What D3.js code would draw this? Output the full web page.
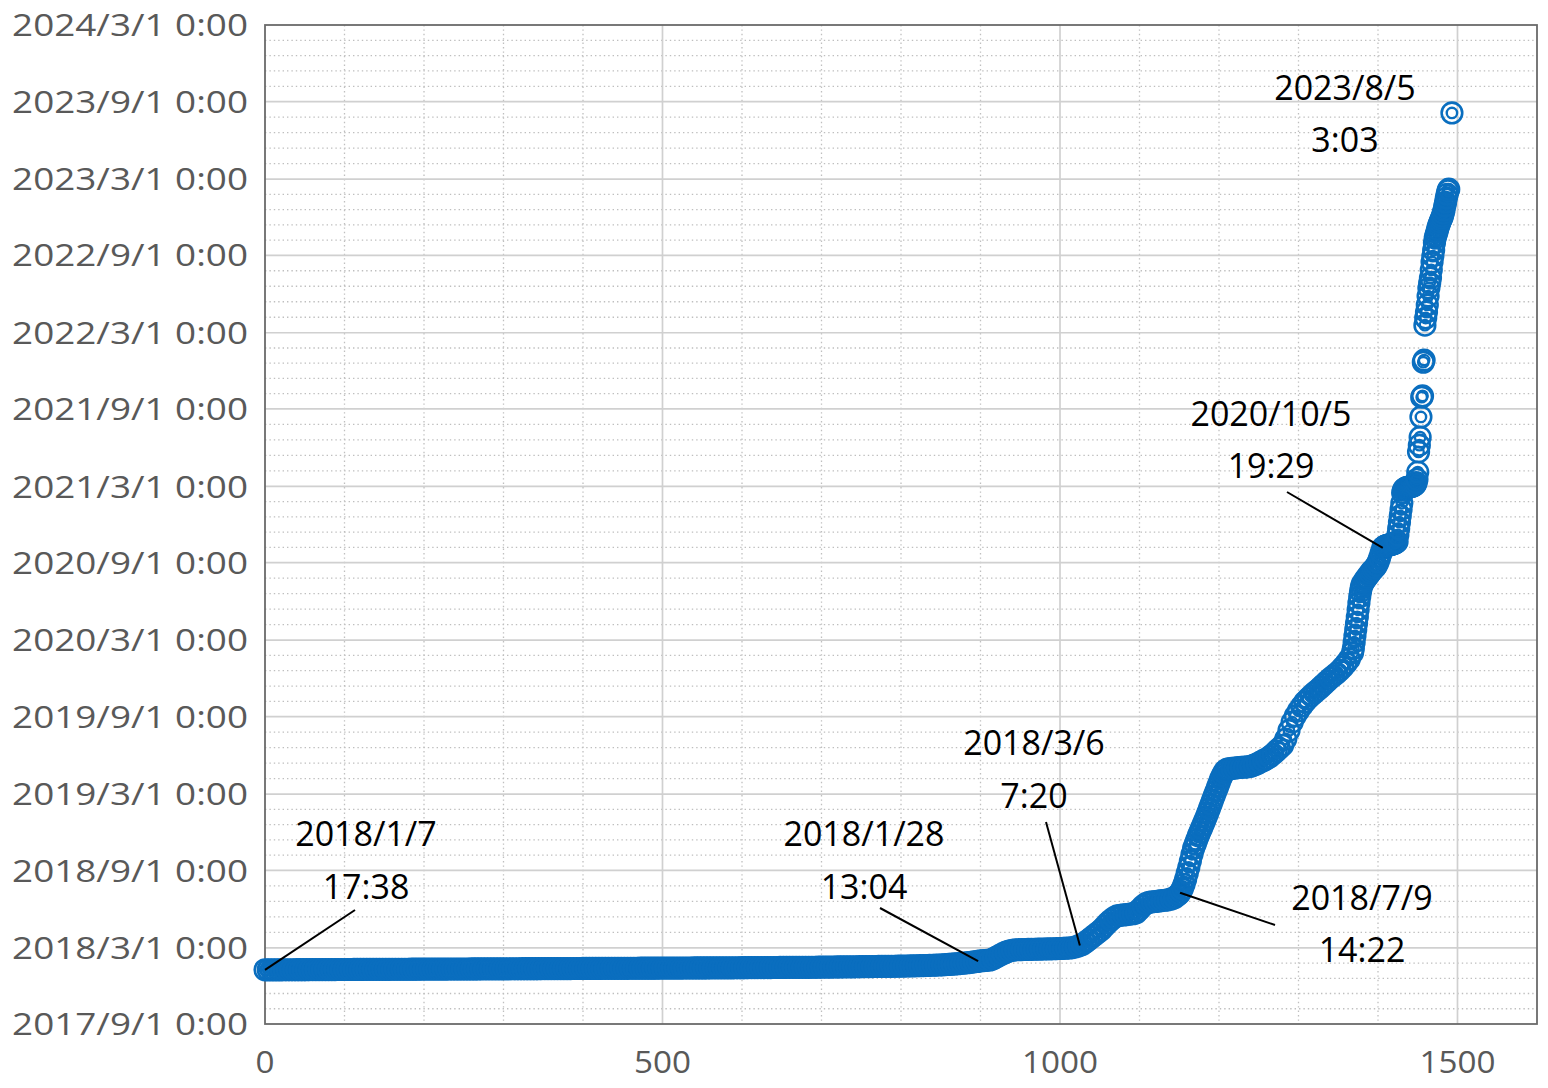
<!DOCTYPE html>
<html><head><meta charset="utf-8">
<script src="https://cdn.jsdelivr.net/npm/d3@7"></script>
<style>body{margin:0;background:#fff} svg{display:block}</style>
</head><body>
<svg id="c" width="1548" height="1088"></svg>
<script>
// ---------------- data ----------------
const xTickValues = [0, 500, 1000, 1500];
const yTickDates = ["2017-09-01","2018-03-01","2018-09-01","2019-03-01","2019-09-01","2020-03-01","2020-09-01",
                    "2021-03-01","2021-09-01","2022-03-01","2022-09-01","2023-03-01","2023-09-01","2024-03-01"];
// values: days since 2018-01-01 0:00 (UTC), record index on x
// dense band, one sample every 4 records, starting at record 0
const bandAStep = 4;
const bandADays = [
 6.7,6.7,6.8,6.8,6.8,6.8,6.9,6.9,6.9,6.9,7.0,7.0,7.0,7.0,7.1,7.1,7.1,7.2,7.2,7.2,7.3,7.3,7.3,7.4,7.4,
 7.5,7.5,7.5,7.6,7.6,7.6,7.7,7.7,7.7,7.8,7.8,7.8,7.9,7.9,7.9,8.0,8.0,8.0,8.1,8.1,8.1,8.2,8.2,8.2,8.3,
 8.3,8.3,8.4,8.4,8.4,8.5,8.5,8.5,8.6,8.6,8.6,8.7,8.7,8.7,8.7,8.8,8.8,8.8,8.9,8.9,8.9,8.9,9.0,9.0,9.0,
 9.1,9.1,9.1,9.2,9.2,9.2,9.3,9.3,9.3,9.4,9.4,9.4,9.5,9.5,9.5,9.5,9.6,9.6,9.6,9.7,9.7,9.7,9.8,9.8,9.8,
 9.9,9.9,9.9,10.0,10.0,10.0,10.1,10.1,10.1,10.2,10.2,10.2,10.3,10.3,10.3,10.4,10.4,10.4,10.5,10.5,10.5,10.6,10.6,10.6,10.7,
 10.7,10.7,10.8,10.8,10.8,10.9,10.9,11.0,11.0,11.0,11.1,11.1,11.1,11.2,11.2,11.3,11.3,11.3,11.4,11.4,11.5,11.5,11.5,11.6,11.6,
 11.7,11.7,11.8,11.8,11.9,11.9,12.0,12.0,12.1,12.1,12.2,12.2,12.3,12.3,12.4,12.4,12.5,12.5,12.6,12.6,12.7,12.7,12.8,12.8,12.9,
 13.0,13.1,13.2,13.3,13.4,13.5,13.5,13.6,13.7,13.8,13.9,14.0,14.1,14.2,14.3,14.4,14.5,14.6,14.7,14.8,14.9,15.0,15.1,15.2,15.3,
 15.4,15.6,15.8,16.0,16.2,16.4,16.6,16.8,17.0,17.3,17.6,17.9,18.2,18.6,19.0,19.5,20.0,20.6,21.3,22.0,22.8,23.6,24.5,25.5,26.6,
 28.0,28.6,29.2,30.0,33,37,41,45,48.5,51,53,54,54.5,54.8,55.0,55.2,55.4,55.6,55.8,56.0,56.2,56.4,56.6,56.8,57.0,
 57.3,57.6,58.0,58.5,59.5,61.5,64.0,67,72,78,84,90,96,102,110,118,125,131,135,136,137,138,139,140,142,
 150,158,164,167,168,169,170,171,172,173,175,178,184
];
// steep rise mid-2018 to spring 2019: [record, days]
const riseAPoints = [
 [1150,187],[1152,193],[1154,200],[1156,210],[1158,222],[1160,236],[1162,250],[1164,265],[1166,281],[1168,295],
 [1170,305],[1172,315],[1174,325],[1176,334],[1178,343],[1180,352],[1182,361],[1184,370],[1186,380],[1188,390],
 [1190,400],[1192,410],[1194,420],[1196,430],[1198,440],[1200,450],[1202,460],[1204,468],[1206,475],[1208,480],[1210,483]
];
// band 2019-2020, one sample every 4 records from record 1212
const bandBStart = 1212, bandBStep = 4;
const bandBDays = [484,485,486,487,487.5,488,489,490,493,496,500,504,508,513,519,526,533,540,555,575,
 595,610,622,633,643,651,658,665,671,678,685,692,699,705,711,718,726,735,745,760];
// last records (2020-2023): [record, days]
const upperPoints = [
 [1369,770],[1370,785],[1371,800],[1372,815],[1373,830],[1374,845],[1375,862],[1376,878],[1377,893],[1378,905],[1379,915],
 [1380,922],[1382,928],[1384,934],[1386,939],[1388,944],[1390,949],[1392,954],[1394,958],[1396,962],[1398,967],
 [1400,975],[1402,985],[1404,997],[1406,1008.81],[1407,1011],[1408,1012],[1409,1013],[1410,1014],[1411,1014.5],[1412,1015],
 [1413,1015.5],[1414,1016],[1415,1016.5],[1416,1017],[1417,1017.5],[1418,1018],[1419,1018.5],[1420,1019],[1421,1020],
 [1422,1021],[1423,1022],[1424,1024],
 [1425,1040],[1426,1055],[1427,1070],[1428,1085],[1429,1100],[1430,1115],
 [1431,1140],[1432,1146],[1433,1149],[1434,1150],[1435,1151],[1436,1152],[1437,1152.5],[1438,1153],[1439,1153.5],
 [1440,1154],[1441,1154.5],[1442,1155],[1443,1155.5],[1444,1156],[1445,1157],[1446,1158],[1447,1160],[1448,1164],[1449,1172],
 [1450,1189],[1451,1237],[1452,1253],[1453,1272],[1454,1320],[1455,1367],[1456,1370],[1457,1450],[1458,1455],
 [1459,1538],[1460,1555],[1461,1569],[1462,1586],[1463,1607],[1464,1626],[1465,1638],[1466,1650],[1467,1669],
 [1468,1688],[1469,1702],[1470,1716],[1471,1733],[1472,1745],[1473,1752],[1474,1759],[1475,1766],[1476,1773],
 [1477,1778],[1478,1783],[1479,1788],[1480,1792],[1481,1797],[1482,1804],[1483,1811],[1484,1821],[1485,1830],
 [1486,1840],[1487,1849],[1488,1857],[1489,1861],[1493,2042.13]
];
// annotated records
const annotRecords = [0, 897, 1025, 1151, 1406, 1493];
const annotDays    = [6.73, 27.54, 64.31, 189.6, 1008.81, 2042.13];
const annotText    = [["2018/1/7","17:38"],["2018/1/28","13:04"],["2018/3/6","7:20"],
                      ["2018/7/9","14:22"],["2020/10/5","19:29"],["2023/8/5","3:03"]];

// ---------------- layout ----------------
const plot = {left:265, right:1537, top:25, bottom:1024};
const origin = Date.UTC(2018,0,1);
const toDate = d => new Date(origin + d*864e5);

const points = [];
bandADays.forEach((d,k)=>points.push({i:k*bandAStep, d}));
riseAPoints.forEach(([i,d])=>points.push({i,d}));
bandBDays.forEach((d,k)=>points.push({i:bandBStart+k*bandBStep, d}));
upperPoints.forEach(([i,d])=>points.push({i,d}));

const x = d3.scaleLinear().domain([0,1600]).range([plot.left, plot.right]);
const yDates = yTickDates.map(s=>new Date(s+"T00:00:00Z"));
const y = d3.scaleUtc().domain([yDates[0], yDates[yDates.length-1]]).range([plot.bottom, plot.top]);

const svg = d3.select("#c");
const FONT = "'Open Sans', 'Noto Sans', sans-serif";

// grid
const g = svg.append("g");
const minorY = [];
for (let k=0;k<yDates.length-1;k++){
  const a=+yDates[k], b=+yDates[k+1];
  for (let j=1;j<5;j++) minorY.push(new Date(a+(b-a)*j/5));
}
g.selectAll(".mny").data(minorY).join("line")
  .attr("x1",plot.left).attr("x2",plot.right)
  .attr("y1",d=>y(d)).attr("y2",d=>y(d))
  .attr("stroke","#bfbfbf").attr("stroke-width",1.3).attr("stroke-dasharray","1.4,3");
const minorX = d3.range(100,1600,100).filter(v=>v%500!==0);
g.selectAll(".mnx").data(minorX).join("line")
  .attr("x1",d=>x(d)).attr("x2",d=>x(d))
  .attr("y1",plot.top).attr("y2",plot.bottom)
  .attr("stroke","#bfbfbf").attr("stroke-width",1.3).attr("stroke-dasharray","1.4,3");
g.selectAll(".mjy").data(yDates.slice(1,-1)).join("line")
  .attr("x1",plot.left).attr("x2",plot.right)
  .attr("y1",d=>y(d)).attr("y2",d=>y(d))
  .attr("stroke","#d0d0d0").attr("stroke-width",1.7);
g.selectAll(".mjx").data(xTickValues.filter(v=>v>0)).join("line")
  .attr("x1",d=>x(d)).attr("x2",d=>x(d))
  .attr("y1",plot.top).attr("y2",plot.bottom)
  .attr("stroke","#d0d0d0").attr("stroke-width",1.7);
svg.append("rect").attr("x",plot.left).attr("y",plot.top)
  .attr("width",plot.right-plot.left).attr("height",plot.bottom-plot.top)
  .attr("fill","none").attr("stroke","#6a6a6a").attr("stroke-width",1.8);

// markers
const BLUE = "#0a6ebf";
const mk = svg.append("g").attr("fill","none").attr("stroke",BLUE);
const pg = mk.selectAll("g").data(points).join("g")
  .attr("transform",p=>`translate(${x(p.i)},${y(toDate(p.d))})`);
pg.append("circle").attr("r",10.3).attr("stroke-width",2.6);
pg.append("circle").attr("r",5.2).attr("stroke-width",2.4);

// stretched text helper (reference glyphs are horizontally wide)
function stretchText(sel, targetW){
  sel.each(function(d){
    const t = d3.select(this);
    const w = this.getComputedTextLength();
    const tw = typeof targetW === "function" ? targetW(d) : targetW;
    const s = tw / w;
    const tx = +t.attr("data-x"), ty = +t.attr("data-y");
    t.attr("transform",`translate(${tx},${ty}) scale(${s},1)`);
  });
}
const fmt = d3.utcFormat("%Y/%-m/%-d %-H:%M");
const yl = svg.append("g").selectAll("text").data(yDates).join("text")
  .attr("data-x",248).attr("data-y",d=>y(d)).attr("dy","0.36em")
  .attr("text-anchor","end").attr("font-family",FONT).attr("font-size",31)
  .attr("fill","#595959").text(d=>fmt(d));
stretchText(yl, 236);
const xl = svg.append("g").selectAll("text").data(xTickValues).join("text")
  .attr("data-x",d=>x(d)).attr("data-y",1073)
  .attr("text-anchor","middle").attr("font-family",FONT).attr("font-size",31)
  .attr("fill","#595959").text(d=>d);
stretchText(xl, d=>String(d).length*19);

// annotations: label centre and leader start (pixels), per annotated record
const annotLayout = [
  {cx:366, b1:846, b2:899, lx:355, ly:910},
  {cx:864, b1:846, b2:899, lx:880, ly:908},
  {cx:1034, b1:755, b2:808, lx:1046, ly:822},
  {cx:1362, b1:910, b2:962, lx:1275, ly:925},
  {cx:1271, b1:426, b2:478, lx:1287, ly:492},
  {cx:1345, b1:100, b2:152, lx:null, ly:null}
];
const an = svg.append("g");
annotRecords.forEach((rec,k)=>{
  const L = annotLayout[k];
  const px = x(rec), py = y(toDate(annotDays[k]));
  if (L.lx!==null){
    an.append("line").attr("x1",L.lx).attr("y1",L.ly).attr("x2",px).attr("y2",py)
      .attr("stroke","#000").attr("stroke-width",2);
  }
  [annotText[k][0], annotText[k][1]].forEach((s,j)=>{
    an.append("text").attr("x",L.cx).attr("y",j?L.b2:L.b1).attr("text-anchor","middle")
      .attr("font-family",FONT).attr("font-size",34).attr("fill","#000").text(s);
  });
});
</script>
</body></html>
